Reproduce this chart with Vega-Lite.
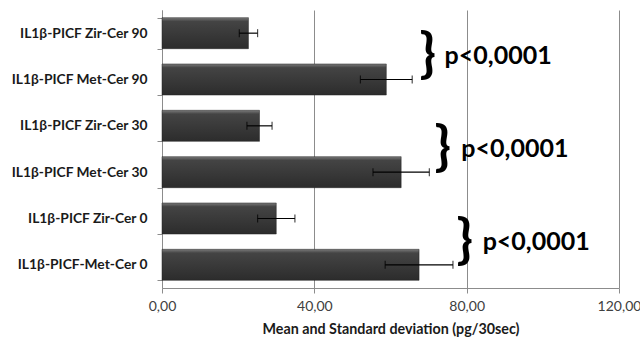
{
  "$schema": "https://vega.github.io/schema/vega-lite/v6.json",
  "width": 457,
  "height": 278,
  "autosize": "none",
  "padding": {"left": 162, "top": 10, "right": 21, "bottom": 56},
  "background": "white",
  "config": {
    "view": {"stroke": null},
    "font": "Lato"
  },
  "datasets": {
    "bars": [
      {"label": "IL1β-PICF Zir-Cer 90", "mean": 22.7, "sd": 2.4},
      {"label": "IL1β-PICF Met-Cer 90", "mean": 58.9, "sd": 6.8},
      {"label": "IL1β-PICF Zir-Cer 30", "mean": 25.6, "sd": 3.3},
      {"label": "IL1β-PICF Met-Cer 30", "mean": 62.8, "sd": 7.4},
      {"label": "IL1β-PICF Zir-Cer 0", "mean": 30.0, "sd": 4.9},
      {"label": "IL1β-PICF-Met-Cer 0", "mean": 67.5, "sd": 8.9}
    ],
    "sig": [
      {"boundary": 5, "brace_x": 69.8, "text_x": 74.2, "text": "p<0,0001"},
      {"boundary": 3, "brace_x": 73.7, "text_x": 78.6, "text": "p<0,0001"},
      {"boundary": 1, "brace_x": 79.5, "text_x": 84.2, "text": "p<0,0001"}
    ]
  },
  "layer": [
    {
      "data": {"name": "bars"},
      "layer": [
        {
          "mark": {
            "type": "bar",
            "stroke": "#222222",
            "strokeWidth": 0.5,
            "color": {
              "x1": 0, "y1": 0, "x2": 0, "y2": 1,
              "gradient": "linear",
              "stops": [
                {"offset": 0, "color": "#7a7a7a"},
                {"offset": 0.12, "color": "#444444"},
                {"offset": 1, "color": "#2c2c2c"}
              ]
            }
          },
          "encoding": {
            "y": {
              "field": "label", "type": "nominal", "sort": null,
              "scale": {"paddingInner": 0.33, "paddingOuter": 0.165},
              "axis": {
                "title": null,
                "tickBand": "extent",
                "domainColor": "#8c8c8c",
                "tickColor": "#8c8c8c",
                "tickSize": 5,
                "labelPadding": 10,
                "labelFont": "Lato",
                "labelFontWeight": "bold",
                "labelFontSize": 13.8,
                "labelColor": "#1a1a1a",
                "labelLimit": 200
              }
            },
            "x": {
              "field": "mean", "type": "quantitative",
              "title": "Mean and Standard deviation (pg/30sec)",
              "scale": {"domain": [0, 120], "nice": false},
              "axis": {
                "values": [0, 40, 80, 120],
                "labelExpr": "replace(format(datum.value, '.2f'), '.', ',')",
                "labelFlush": false,
                "titleFont": "Lato",
                "titleFontWeight": "bold",
                "titleFontSize": 14.3,
                "titleColor": "#1a1a1a",
                "titlePadding": 9,
                "labelFont": "Lato",
                "labelFontSize": 14,
                "labelColor": "#404040",
                "labelPadding": 6,
                "domainColor": "#8c8c8c",
                "tickColor": "#8c8c8c",
                "tickSize": 5,
                "grid": true,
                "gridColor": "#8c8c8c",
                "gridWidth": 1
              }
            }
          }
        },
        {
          "mark": {"type": "errorbar", "ticks": {"size": 8, "color": "#000000"}, "color": "#000000", "thickness": 1.2},
          "encoding": {
            "y": {"field": "label", "type": "nominal", "sort": null},
            "x": {"field": "mean", "type": "quantitative", "title": "Mean and Standard deviation (pg/30sec)"},
            "xError": {"field": "sd"}
          }
        }
      ]
    },
    {
      "data": {"name": "sig"},
      "layer": [
        {
          "mark": {"type": "text", "text": "}", "font": "Lato", "fontWeight": "bold", "fontSize": 54, "align": "center", "baseline": "middle", "color": "#000000"},
          "encoding": {
            "x": {"field": "brace_x", "type": "quantitative", "scale": {"domain": [0, 120], "nice": false}, "title": "Mean and Standard deviation (pg/30sec)"},
            "y": {"field": "boundary", "type": "quantitative", "scale": {"domain": [0, 6], "nice": false}, "axis": null}
          }
        },
        {
          "mark": {"type": "text", "font": "Lato", "fontWeight": "bold", "fontSize": 25, "align": "left", "baseline": "middle", "color": "#000000"},
          "encoding": {
            "x": {"field": "text_x", "type": "quantitative", "title": "Mean and Standard deviation (pg/30sec)"},
            "y": {"field": "boundary", "type": "quantitative", "axis": null},
            "text": {"field": "text"}
          }
        }
      ]
    }
  ],
  "resolve": {"scale": {"y": "independent"}}
}
